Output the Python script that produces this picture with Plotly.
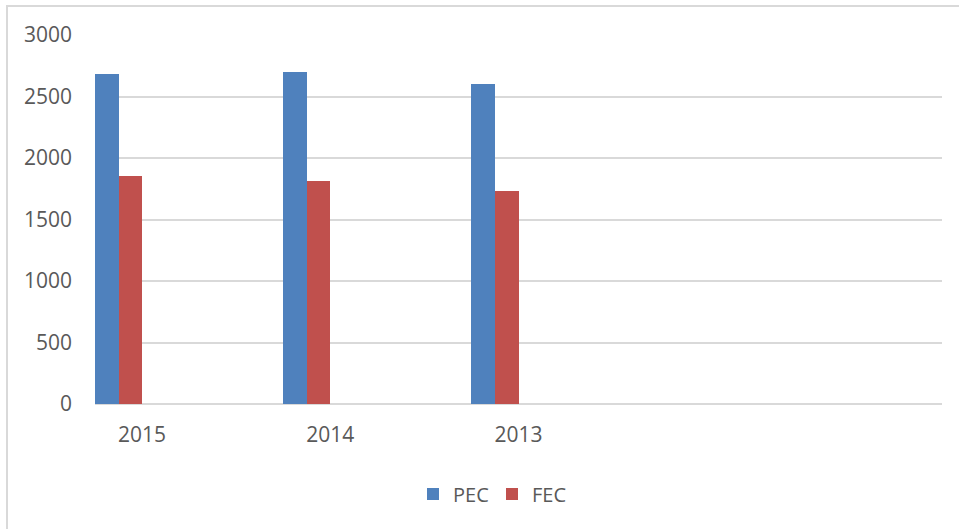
import plotly.graph_objects as go

years = ["2015", "2014", "2013"]
pec = [2680, 2700, 2600]
fec = [1850, 1810, 1735]
y_ticks = [0, 500, 1000, 1500, 2000, 2500, 3000]

idx = list(range(len(years)))
W, H = 959, 529
L, R, T, B = 95, 942, 35, 404

font = dict(family="Open Sans, Noto Sans, sans-serif", size=21, color="#595959")
lfont = dict(family="Open Sans, Noto Sans, sans-serif", size=20, color="#595959")

fig = go.Figure()
fig.add_trace(go.Bar(name="PEC", x=idx, y=pec, width=0.125, offset=-0.5,
                     marker=dict(color="#4F81BD", line=dict(width=0))))
fig.add_trace(go.Bar(name="FEC", x=idx, y=fec, width=0.125, offset=-0.375,
                     marker=dict(color="#C0504D", line=dict(width=0))))

def px_x(p):
    return (p - L) / (R - L)

def px_y(p):
    return (B - p) / (B - T)

fig.update_layout(
    width=W, height=H,
    margin=dict(l=L, r=W - R, t=T, b=H - B, autoexpand=False),
    paper_bgcolor="white", plot_bgcolor="white",
    font=font,
    showlegend=True,
    legend=dict(orientation="h", x=px_x(492), xanchor="center", y=px_y(494), yanchor="middle",
                font=lfont, entrywidth=34, entrywidthmode="pixels",
                bgcolor="rgba(0,0,0,0)"),
    xaxis=dict(range=[-0.5, 4.0], tickmode="array",
               tickvals=[i - 0.25 for i in idx], ticktext=years,
               showgrid=False, zeroline=False, showline=False, ticks="",
               tickfont=font, ticklabelstandoff=16),
    yaxis=dict(range=[0, 3000], tickmode="array", tickvals=y_ticks,
               showgrid=True, gridcolor="#D9D9D9", gridwidth=2,
               zeroline=True, zerolinecolor="#D9D9D9", zerolinewidth=2,
               showline=False, ticks="", tickfont=font, ticklabelstandoff=22),
    bargap=0,
    shapes=[dict(type="rect", xref="paper", yref="paper",
                 x0=px_x(7), x1=px_x(1000), y0=px_y(560), y1=px_y(6),
                 line=dict(color="#D9D9D9", width=2), fillcolor="rgba(0,0,0,0)",
                 layer="below")],
)

fig.write_html("out.html", config={"displayModeBar": False},
               post_script="document.body.style.margin='0';")
